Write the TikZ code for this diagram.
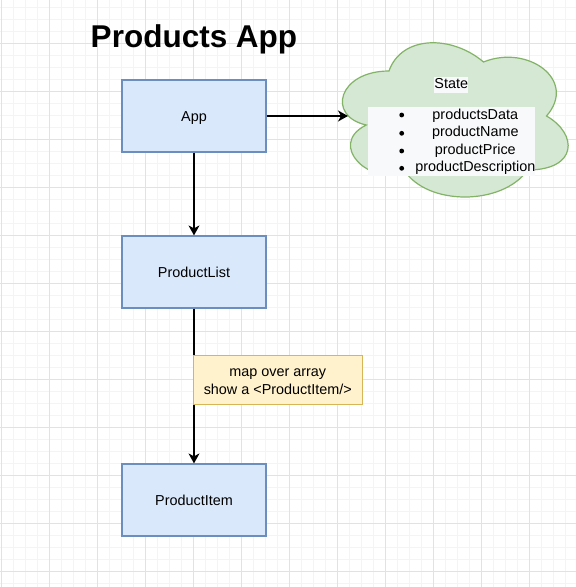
\documentclass[tikz,border=0pt]{standalone}
\usepackage{fontspec}
\setmainfont{Liberation Sans}
\usetikzlibrary{arrows.meta}
\definecolor{bluefill}{HTML}{DAE8FC}
\definecolor{bluedraw}{HTML}{6C8EBF}
\definecolor{yelfill}{HTML}{FFF2CC}
\definecolor{yeldraw}{HTML}{D6B656}
\definecolor{greenfill}{HTML}{D5E8D4}
\definecolor{greendraw}{HTML}{82B366}
\definecolor{listfill}{HTML}{F8F9FA}
\definecolor{gridmajor}{HTML}{E2E2E2}
\definecolor{gridminor}{HTML}{F4F4F4}
\begin{document}
\begin{tikzpicture}[x=1pt,y=-1pt,
  comp/.style={draw=bluedraw,fill=bluefill,line width=1.2pt,minimum width=144pt,minimum height=72pt,inner sep=0pt,text height=10.4pt,text depth=0pt,font=\fontsize{14.4}{17}\selectfont},
  conn/.style={line width=1.2pt,-{Stealth[length=10pt,width=11pt,inset=3pt]}},
  txt/.style={inner sep=0pt,anchor=base,font=\fontsize{14.4}{17}\selectfont},
  bullet/.style={circle,fill=black,inner sep=0pt,minimum size=4.8pt},
  minorgrid/.style={gridminor,line width=1pt},
  majorgrid/.style={gridmajor,line width=1pt},
]
\useasboundingbox (0,0) rectangle (576,587);
\fill[white] (0,0) rectangle (576,587);
% grid
\foreach \x in {1,13,...,577} \draw[minorgrid] (\x,0) -- (\x,587);
\foreach \y in {7,19,...,587} \draw[minorgrid] (0,\y) -- (576,\y);
\foreach \x in {1,49,...,577} \draw[majorgrid] (\x,0) -- (\x,587);
\foreach \y in {43,91,...,587} \draw[majorgrid] (0,\y) -- (576,\y);

% title
\node[inner sep=0pt,anchor=base,font=\fontsize{31.5}{36}\selectfont\bfseries] (title) at (194,47.3) {Products App};

% components
\node[comp] (app) at (194,116) {App};
\node[comp] (plist) at (194,272) {ProductList};
\node[comp] (pitem) at (194,500) {ProductItem};

% cloud
\draw[greendraw,fill=greenfill,line width=1.2pt]
  (389,71) .. controls (338.6,71) and (326,116) .. (366.3,125)
  .. controls (326,144.8) and (371.4,188) .. (404.1,170)
  .. controls (426.8,206) and (502.4,206) .. (527.6,170)
  .. controls (578,170) and (578,134) .. (546.5,116)
  .. controls (578,80) and (527.6,44) .. (483.5,62)
  .. controls (452,35) and (401.6,35) .. (389,71) -- cycle;
\coordinate (cloudin) at (348,116);

% state label and list
\node[fill=listfill,minimum width=34pt,minimum height=16pt,inner sep=0pt] (statebg) at (451.3,84.7) {};
\node[txt] (state) at (451.3,88.3) {State};
\node[fill=listfill,minimum width=167pt,minimum height=69pt,inner sep=0pt] (listbox) at (451.5,141.5) {};
\node[bullet] (b1) at (401.7,115) {};
\node[bullet] (b2) at (401.7,133.3) {};
\node[bullet] (b3) at (401.7,151) {};
\node[bullet] (b4) at (401.7,168.3) {};
\node[txt] (i1) at (475.3,119.3) {productsData};
\node[txt] (i2) at (475.3,136.7) {productName};
\node[txt] (i3) at (475.3,154) {productPrice};
\node[txt] (i4) at (475.3,171.5) {productDescription};

% connectors
\draw[conn] (app.east) -- (cloudin);
\draw[conn] (app.south) -- (plist.north);
\draw[conn] (plist.south) -- (pitem.north);

% edge label
\node[draw=yeldraw,fill=yelfill,line width=1.2pt,minimum width=169pt,minimum height=48.6pt,inner sep=0pt] (lbl) at (277.8,380) {};
\node[txt] (l1) at (277.8,376) {map over array};
\node[txt] (l2) at (277.8,394) {show a <ProductItem/>};
\end{tikzpicture}
\end{document}
